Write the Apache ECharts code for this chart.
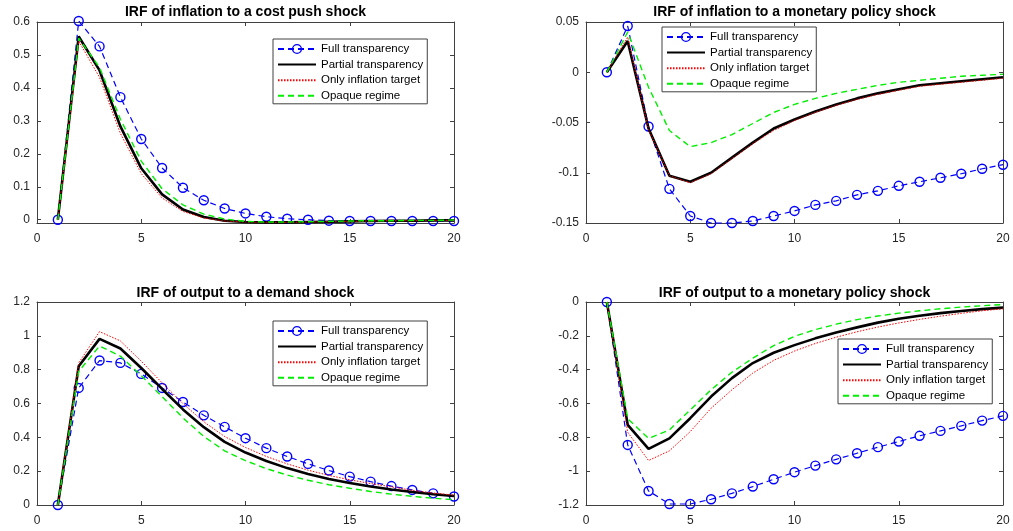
<!DOCTYPE html>
<html>
<head>
<meta charset="utf-8">
<script src="https://cdn.jsdelivr.net/npm/echarts@6/dist/echarts.min.js"></script>
<style>
html,body{margin:0;padding:0;background:#fff;}
#chart{width:1013px;height:531px;}
</style>
</head>
<body>
<div id="chart"></div>
<script>
// ---------- data ----------
const periods = [1,2,3,4,5,6,7,8,9,10,11,12,13,14,15,16,17,18,19,20];
const seriesNames = ['Full transparency','Partial transparency','Only inflation target','Opaque regime'];
const titles = [
  'IRF of inflation to a cost push shock',
  'IRF of inflation to a monetary policy shock',
  'IRF of output to a demand shock',
  'IRF of output to a monetary policy shock'
];
const xTicks = [0,5,10,15,20];
const p1YTicks = [0,0.1,0.2,0.3,0.4,0.5,0.6];
const p2YTicks = [-0.15,-0.1,-0.05,0,0.05];
const p3YTicks = [0,0.2,0.4,0.6,0.8,1,1.2];
const p4YTicks = [-1.2,-1,-0.8,-0.6,-0.4,-0.2,0];

// Panel 1: inflation / cost push
const p1Full    = [0,0.603,0.526,0.372,0.245,0.157,0.097,0.059,0.034,0.019,0.009,0.003,0.000,-0.003,-0.004,-0.004,-0.004,-0.004,-0.004,-0.004];
const p1Partial = [0,0.556,0.453,0.283,0.156,0.077,0.031,0.008,-0.003,-0.007,-0.008,-0.008,-0.007,-0.006,-0.005,-0.004,-0.003,-0.003,-0.002,-0.002];
const p1Only    = [0,0.542,0.432,0.262,0.140,0.066,0.025,0.005,-0.004,-0.007,-0.008,-0.008,-0.007,-0.006,-0.005,-0.004,-0.003,-0.003,-0.002,-0.002];
const p1Opaque  = [0,0.551,0.462,0.305,0.178,0.094,0.045,0.017,0.002,-0.005,-0.007,-0.007,-0.006,-0.005,-0.004,-0.003,-0.003,-0.002,-0.002,-0.001];
// Panel 2: inflation / monetary policy
const p2Full    = [0,0.046,-0.054,-0.116,-0.143,-0.150,-0.150,-0.148,-0.143,-0.138,-0.132,-0.128,-0.122,-0.118,-0.113,-0.109,-0.105,-0.101,-0.096,-0.092];
const p2Partial = [0,0.031,-0.056,-0.103,-0.109,-0.100,-0.085,-0.070,-0.056,-0.047,-0.039,-0.032,-0.026,-0.021,-0.017,-0.013,-0.011,-0.009,-0.007,-0.005];
const p2Only    = [0,0.035,-0.057,-0.103,-0.110,-0.101,-0.086,-0.071,-0.058,-0.048,-0.040,-0.033,-0.027,-0.022,-0.018,-0.014,-0.012,-0.010,-0.008,-0.006];
const p2Opaque  = [0,0.040,-0.015,-0.058,-0.074,-0.070,-0.062,-0.051,-0.040,-0.032,-0.026,-0.021,-0.017,-0.013,-0.010,-0.008,-0.006,-0.004,-0.003,-0.002];
// Panel 3: output / demand
const p3Full    = [0,0.692,0.854,0.840,0.775,0.692,0.609,0.530,0.462,0.395,0.336,0.287,0.243,0.204,0.168,0.138,0.112,0.089,0.069,0.050];
const p3Partial = [0,0.820,0.982,0.925,0.810,0.686,0.565,0.460,0.373,0.310,0.260,0.218,0.183,0.154,0.130,0.109,0.092,0.077,0.064,0.053];
const p3Only    = [0,0.840,1.025,0.970,0.850,0.722,0.600,0.492,0.405,0.340,0.287,0.243,0.206,0.175,0.149,0.127,0.107,0.087,0.071,0.058];
const p3Opaque  = [0,0.790,0.940,0.880,0.765,0.640,0.515,0.405,0.320,0.262,0.215,0.177,0.146,0.120,0.099,0.080,0.064,0.051,0.040,0.031];
// Panel 4: output / monetary policy
const p4Full    = [0,-0.845,-1.117,-1.194,-1.194,-1.166,-1.131,-1.091,-1.048,-1.006,-0.967,-0.930,-0.894,-0.858,-0.825,-0.791,-0.762,-0.732,-0.701,-0.673];
const p4Partial = [0,-0.726,-0.868,-0.806,-0.687,-0.559,-0.450,-0.361,-0.300,-0.255,-0.215,-0.180,-0.150,-0.122,-0.099,-0.081,-0.066,-0.053,-0.042,-0.033];
const p4Only    = [0,-0.770,-0.937,-0.880,-0.766,-0.628,-0.519,-0.420,-0.345,-0.290,-0.245,-0.208,-0.176,-0.148,-0.124,-0.103,-0.084,-0.067,-0.052,-0.040];
const p4Opaque  = [0,-0.690,-0.806,-0.756,-0.638,-0.519,-0.415,-0.332,-0.258,-0.203,-0.163,-0.131,-0.104,-0.083,-0.066,-0.052,-0.040,-0.030,-0.022,-0.015];

// ---------- layout ----------
const FONT = '"Liberation Sans", Arial, Helvetica, sans-serif';
const AXC = '#404040';
const panels = [
  {grid:{left:37,top:22,width:417,height:201}, ymin:-0.01, ymax:0.6, yTicks:p1YTicks, legend:{left:273,top:39}, data:[p1Full,p1Partial,p1Only,p1Opaque], titleTop:5},
  {grid:{left:586,top:22,width:417,height:201}, ymin:-0.15, ymax:0.05, yTicks:p2YTicks, legend:{left:662,top:27}, data:[p2Full,p2Partial,p2Only,p2Opaque], titleTop:5},
  {grid:{left:37,top:302,width:417,height:203}, ymin:0, ymax:1.2, yTicks:p3YTicks, legend:{left:273,top:321}, data:[p3Full,p3Partial,p3Only,p3Opaque], titleTop:286},
  {grid:{left:586,top:302,width:417,height:203}, ymin:-1.2, ymax:0, yTicks:p4YTicks, legend:{left:838,top:339}, data:[p4Full,p4Partial,p4Only,p4Opaque], titleTop:286}
];

const styles = [
  {color:'#0000ff', lineStyle:{color:'#0000ff', width:1.2, type:[6,4]}, symbol:'circle', symbolSize:9,
   itemStyle:{color:'rgba(255,255,255,0)', borderColor:'#0000ff', borderWidth:1.4}},
  {color:'#000000', lineStyle:{color:'#000000', width:2.6, type:'solid'}, symbol:'none', itemStyle:{color:'#000'}},
  {color:'#ff0000', lineStyle:{color:'#ff0000', width:1, type:[1.5,1.5]}, symbol:'none', itemStyle:{color:'#f00'}},
  {color:'#00ee00', lineStyle:{color:'#00ee00', width:1.4, type:[6,4]}, symbol:'none', itemStyle:{color:'#0e0'}}
];
const HIDDEN = {color:'rgba(0,0,0,0)', borderColor:'rgba(0,0,0,0)', borderWidth:0, opacity:0};
const legendData = seriesNames.map((n, k) => k === 0
  ? {name:n, itemStyle:{color:'rgba(255,255,255,0)', borderColor:'#0000ff', borderWidth:1.4}}
  : {name:n, itemStyle:HIDDEN});

const option = {
  animation:false,
  backgroundColor:'#ffffff',
  title:[], grid:[], xAxis:[], yAxis:[], legend:[], series:[]
};

panels.forEach((p, i) => {
  option.grid.push(Object.assign({containLabel:false}, p.grid));
  option.title.push({
    text: titles[i],
    left: p.grid.left + p.grid.width/2,
    top: p.titleTop,
    textAlign:'center',
    padding:0,
    textStyle:{fontFamily:FONT, fontSize:14, fontWeight:'bold', color:'#000'}
  });
  const tickCommon = {show:true, inside:true, length:4, lineStyle:{color:AXC, width:1}};
  option.xAxis.push({
    type:'value', gridIndex:i, position:'bottom', min:0, max:20, interval:5,
    axisLine:{show:true, onZero:false, lineStyle:{color:AXC, width:1}},
    axisTick:tickCommon, splitLine:{show:false},
    axisLabel:{show:true, margin:10, color:'#262626', fontFamily:FONT, fontSize:12,
               customValues:xTicks, formatter:v=>String(v)}
  });
  option.xAxis.push({
    type:'value', gridIndex:i, position:'top', min:0, max:20, interval:5,
    axisLine:{show:true, onZero:false, lineStyle:{color:AXC, width:1}},
    axisTick:tickCommon, splitLine:{show:false}, axisLabel:{show:false}
  });
  option.yAxis.push({
    type:'value', gridIndex:i, position:'left', min:p.ymin, max:p.ymax,
    axisLine:{show:true, onZero:false, lineStyle:{color:AXC, width:1}},
    axisTick:Object.assign({customValues:p.yTicks}, tickCommon), splitLine:{show:false},
    axisLabel:{show:true, margin:7, color:'#262626', fontFamily:FONT, fontSize:12,
               customValues:p.yTicks, formatter:v=>String(+v.toFixed(4))}
  });
  option.yAxis.push({
    type:'value', gridIndex:i, position:'right', min:p.ymin, max:p.ymax,
    axisLine:{show:true, onZero:false, lineStyle:{color:AXC, width:1}},
    axisTick:Object.assign({customValues:p.yTicks}, tickCommon), splitLine:{show:false},
    axisLabel:{show:false, customValues:p.yTicks}
  });
  option.legend.push({
    left:p.legend.left, top:p.legend.top, orient:'vertical',
    data:legendData.map(d => Object.assign({}, d)),
    backgroundColor:'#ffffff', borderColor:AXC, borderWidth:1,
    padding:[3,4,1,4], itemWidth:38, itemHeight:11, itemGap:1.6, itemTextGap:4,
    textStyle:{fontFamily:FONT, fontSize:11.5, color:'#000', lineHeight:14},
    selectedMode:false
  });
  seriesNames.forEach((name, k) => {
    const st = styles[k];
    option.series.push({
      name:name, type:'line', xAxisIndex:2*i, yAxisIndex:2*i,
      data: periods.map((t, j) => [t, p.data[k][j]]),
      color:st.color,
      lineStyle:st.lineStyle,
      symbol:st.symbol, symbolSize:st.symbolSize||0,
      showSymbol: st.symbol !== 'none',
      itemStyle:st.itemStyle,
      clip:false, silent:true, z:2+k
    });
  });
});

const chart = echarts.init(document.getElementById('chart'), null, {renderer:'canvas'});
chart.setOption(option);
</script>
</body>
</html>
